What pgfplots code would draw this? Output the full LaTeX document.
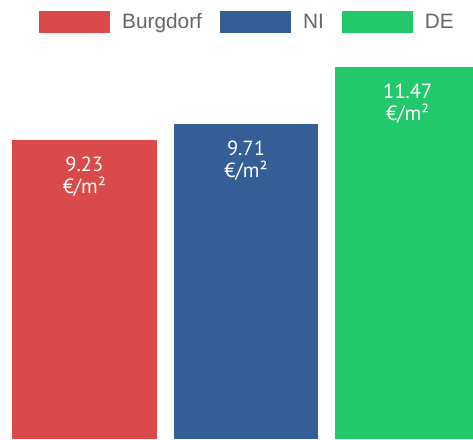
\documentclass[border=0pt]{standalone}
\usepackage{fontspec}
\setmainfont{Liberation Sans}
\newfontfamily\labfont{PT Sans}
\usepackage{pgfplots}
\pgfplotsset{compat=1.18}
\definecolor{cred}{HTML}{DA4A4A}
\definecolor{cblue}{HTML}{335E96}
\definecolor{cgreen}{HTML}{22C86A}
\definecolor{cgray}{HTML}{666666}
\begin{document}
\begin{tikzpicture}
\begin{axis}[
  scale only axis,
  width=473pt, height=439pt,
  xmin=-0.5216, xmax=2.404,
  ymin=0, ymax=13.53,
  axis line style={draw=none}, ticks=none,
  ybar, bar shift=0pt, bar width=0.895,
  point meta=explicit symbolic,
  nodes near coords={\pgfplotspointmeta\\€/m²},
  every node near coord/.append style={anchor=north, yshift=-17pt, text=white,
     font=\labfont\fontsize{20.5}{22}\selectfont, align=center, inner sep=0pt},
  legend columns=3,
  legend style={draw=none, fill=none, at={(0.0825,0.9756)}, anchor=north west,
     inner sep=0pt, font=\fontsize{20.8}{24}\selectfont, text=cgray,
     nodes={inner sep=0pt},
     /tikz/every odd column/.append style={column sep=12pt},
     /tikz/every even column/.append style={column sep=18pt}},
  legbox/.style={legend image code/.code={\fill[##1] (0pt,-11pt) rectangle (71pt,11pt);}},
]
\addplot[fill=cred, draw=none, legbox] coordinates {(0,9.23) [9.23]};
\addplot[fill=cblue, draw=none, legbox] coordinates {(1,9.71) [9.71]};
\addplot[fill=cgreen, draw=none, legbox] coordinates {(2,11.47) [11.47]};
\legend{Burgdorf, NI, DE}
\coordinate (ll) at (rel axis cs:0,0);
\coordinate (ur) at (rel axis cs:1,1);
\end{axis}
\pgfresetboundingbox
\useasboundingbox (ll) rectangle (ur);
\end{tikzpicture}
\end{document}
